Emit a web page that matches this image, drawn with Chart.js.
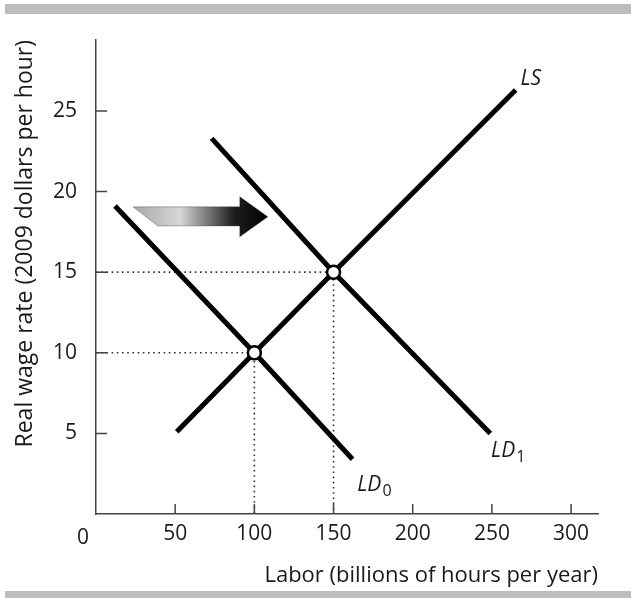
<!DOCTYPE html>
<html>
<head>
<meta charset="utf-8">
<script src="https://cdn.jsdelivr.net/npm/chart.js@4/dist/chart.umd.min.js"></script>
<style>
  html, body { margin: 0; padding: 0; background: #fff; }
  #wrap { width: 631px; height: 598px; position: relative; }
</style>
</head>
<body>
<div id="wrap"><canvas id="chart" width="631" height="598"></canvas></div>
<script>
// tick labels
let laborTicks = [50, 100, 150, 200, 250, 300];
let wageTicks = [5, 10, 15, 20, 25];

// curves (labor, real wage)
let lsCurve = [{x: 51, y: 5.1}, {x: 100, y: 10}, {x: 150, y: 15}, {x: 265, y: 26.3}];
let ld0Curve = [{x: 12, y: 19.1}, {x: 100, y: 10}, {x: 162, y: 3.4}];
let ld1Curve = [{x: 73, y: 23.3}, {x: 150, y: 15}, {x: 249, y: 5.0}];

// equilibrium points
let equilibria = [{x: 100, y: 10}, {x: 150, y: 15}];

// shift arrow outline, in data units
let shiftArrow = [[23.3, 19.05], [90.8, 19.05], [90.8, 19.68], [108.5, 18.43],
                  [90.8, 17.19], [90.8, 17.87], [39.1, 17.87]];

// curve names
let curveLabels = [
  {text: 'LS', sub: '', x: 268, y: 27.0},
  {text: 'LD', sub: '1', x: 249.5, y: 3.9},
  {text: 'LD', sub: '0', x: 165, y: 1.8}
];

const FONT = '"Open Sans", "DejaVu Sans", sans-serif';
const INK = '#1a1a1a';

// gray rules top and bottom
const frameBars = {
  id: 'frameBars',
  beforeDraw(chart) {
    const ctx = chart.ctx;
    ctx.save();
    ctx.fillStyle = '#bdbdbd';
    ctx.fillRect(5, 4, chart.width - 5, 10);
    ctx.fillRect(5, 591, chart.width - 5, 7);
    ctx.restore();
  }
};

// tick marks pointing into the plot
const innerTicks = {
  id: 'innerTicks',
  afterDraw(chart) {
    const ctx = chart.ctx;
    const xs = chart.scales.x, ys = chart.scales.y;
    const x0 = xs.getPixelForValue(0), y0 = ys.getPixelForValue(0);
    ctx.save();
    ctx.strokeStyle = '#444';
    ctx.lineWidth = 1.5;
    ctx.beginPath();
    laborTicks.forEach(v => {
      const px = xs.getPixelForValue(v);
      ctx.moveTo(px, y0);
      ctx.lineTo(px, y0 - 10);
    });
    wageTicks.forEach(v => {
      const py = ys.getPixelForValue(v);
      ctx.moveTo(x0, py);
      ctx.lineTo(x0 + 11, py);
    });
    ctx.stroke();

    // origin label sits below-left of the corner
    ctx.fillStyle = INK;
    ctx.font = '21px ' + FONT;
    ctx.textAlign = 'center';
    ctx.textBaseline = 'middle';
    ctx.fillText('0', x0 - 13, y0 + 24);
    ctx.restore();
  }
};

// gradient arrow and curve names
const annotations = {
  id: 'annotations',
  afterDatasetsDraw(chart) {
    const ctx = chart.ctx;
    const xs = chart.scales.x, ys = chart.scales.y;
    const pts = shiftArrow.map(p => [xs.getPixelForValue(p[0]), ys.getPixelForValue(p[1])]);
    const left = Math.min(...pts.map(p => p[0]));
    const right = Math.max(...pts.map(p => p[0]));
    const grad = ctx.createLinearGradient(left, 0, right, 0);
    grad.addColorStop(0, '#a8a8a8');
    grad.addColorStop(0.35, '#d6d6d6');
    grad.addColorStop(0.75, '#1e1e1e');
    grad.addColorStop(1, '#000');
    ctx.save();
    ctx.beginPath();
    pts.forEach((p, i) => i ? ctx.lineTo(p[0], p[1]) : ctx.moveTo(p[0], p[1]));
    ctx.closePath();
    ctx.fillStyle = grad;
    ctx.fill();
    ctx.strokeStyle = 'rgba(60,60,60,0.6)';
    ctx.lineWidth = 0.6;
    ctx.stroke();

    ctx.fillStyle = INK;
    ctx.textBaseline = 'middle';
    ctx.textAlign = 'left';
    curveLabels.forEach(l => {
      const px = xs.getPixelForValue(l.x), py = ys.getPixelForValue(l.y);
      ctx.font = 'italic 21px ' + FONT;
      ctx.fillText(l.text, px, py);
      if (l.sub) {
        const w = ctx.measureText(l.text).width;
        ctx.font = '16px ' + FONT;
        ctx.fillText(l.sub, px + w + 1, py + 6);
      }
    });
    ctx.restore();
  }
};

function curve(data) {
  return {
    type: 'line', data: data, borderColor: '#000', borderWidth: 5,
    borderCapStyle: 'butt', pointRadius: 0, tension: 0, order: 1
  };
}

const guides = equilibria.map(e => ({
  type: 'line',
  data: [{x: 0, y: e.y}, {x: e.x, y: e.y}, {x: e.x, y: 0}],
  borderColor: '#333', borderWidth: 1.6, borderDash: [1.6, 3.6],
  pointRadius: 0, tension: 0, order: 2
}));

const ctx = document.getElementById('chart').getContext('2d');
const chart = new Chart(ctx, {
  type: 'scatter',
  data: {
    datasets: [
      {
        data: equilibria, pointRadius: 6.5, pointBackgroundColor: '#fff',
        pointBorderColor: '#000', pointBorderWidth: 2.5, order: 0
      },
      curve(lsCurve),
      curve(ld0Curve),
      curve(ld1Curve),
      ...guides
    ]
  },
  options: {
    responsive: false,
    animation: false,
    devicePixelRatio: 1,
    layout: { padding: { left: 0, right: 33, top: 40, bottom: 0 } },
    plugins: { legend: { display: false }, tooltip: { enabled: false } },
    scales: {
      x: {
        type: 'linear', min: 0, max: 317,
        afterBuildTicks: s => { s.ticks = laborTicks.map(v => ({value: v})); },
        afterFit: s => { s.height = 84; },
        grid: { display: false, drawTicks: false },
        border: { display: true, color: '#444', width: 1.5 },
        ticks: { color: INK, font: { family: FONT, size: 21 }, padding: 7, maxRotation: 0 },
        title: {
          display: true, text: 'Labor (billions of hours per year)', align: 'end',
          color: INK, font: { family: FONT, size: 22 }, padding: { top: 0, bottom: 9 }
        }
      },
      y: {
        type: 'linear', min: 0, max: 29.4,
        afterBuildTicks: s => { s.ticks = wageTicks.map(v => ({value: v})); },
        afterFit: s => { s.width = 96; },
        grid: { display: false, drawTicks: false },
        border: { display: true, color: '#444', width: 1.5 },
        ticks: { color: INK, font: { family: FONT, size: 21 }, padding: 19 },
        title: {
          display: true, text: 'Real wage rate (2009 dollars per hour)', align: 'end',
          color: INK, font: { family: FONT, size: 23 }, padding: { top: 12, bottom: 0 }
        }
      }
    }
  },
  plugins: [frameBars, innerTicks, annotations]
});
</script>
</body>
</html>
